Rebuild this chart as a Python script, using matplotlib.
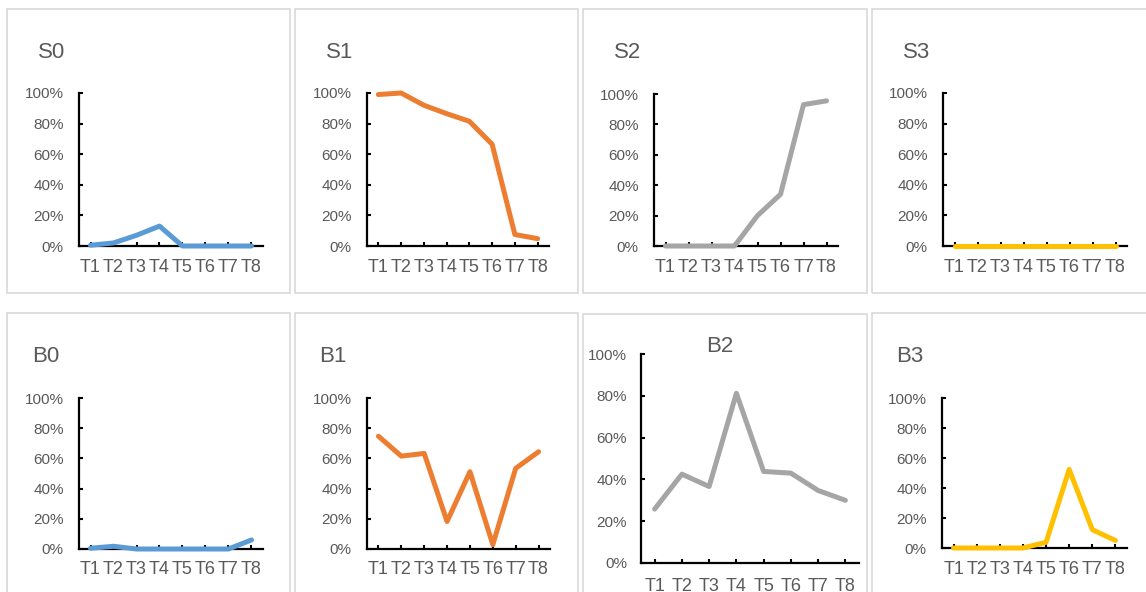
import matplotlib
matplotlib.use('Agg')
import matplotlib.pyplot as plt
from matplotlib.patches import Rectangle
from matplotlib.ticker import PercentFormatter

plt.rcParams['font.family'] = ['Liberation Sans', 'DejaVu Sans']
NARROW = ['Liberation Sans Narrow', 'Liberation Sans', 'DejaVu Sans']

# Data (fractions)
periods = ['T1', 'T2', 'T3', 'T4', 'T5', 'T6', 'T7', 'T8']
s0 = [0.005, 0.02, 0.07, 0.13, 0.0, 0.0, 0.0, 0.0]
s1 = [0.99, 1.0, 0.92, 0.865, 0.815, 0.665, 0.075, 0.048]
s2 = [0.0, 0.0, 0.0, 0.0, 0.20, 0.34, 0.93, 0.955]
s3 = [0.0, 0.0, 0.0, 0.0, 0.0, 0.0, 0.0, 0.0]
b0 = [0.005, 0.018, 0.0, 0.0, 0.0, 0.0, 0.0, 0.06]
b1 = [0.747, 0.615, 0.633, 0.182, 0.512, 0.029, 0.534, 0.644]
b2 = [0.258, 0.425, 0.366, 0.812, 0.438, 0.43, 0.347, 0.30]
b3 = [0.0, 0.0, 0.0, 0.0, 0.038, 0.524, 0.122, 0.05]

names = ['S0', 'S1', 'S2', 'S3', 'B0', 'B1', 'B2', 'B3']
series = [s0, s1, s2, s3, b0, b1, b2, b3]
colors = ['#5B9BD5', '#ED7D31', '#A5A5A5', '#FFC000'] * 2

W, H = 1146, 592
TEXT = '#595959'

# layout in pixels: (left, top, right, bottom)
axes_px = [(79, 93, 263, 246), (367, 93, 549, 246), (654, 94, 838, 246), (943, 93, 1127, 246),
           (79, 398, 263, 549), (367, 398, 550, 549), (641, 354, 859, 563), (942, 398, 1127, 548)]
box_px = [(7, 9, 290, 293), (295, 9, 578, 293), (583, 9, 867, 293), (872, 9, 1152, 293),
          (7, 313, 290, 600), (295, 313, 578, 600), (583, 314, 867, 600), (872, 313, 1152, 600)]
title_px = [(52, 52), (340, 52), (628, 52), (917, 52),
            (46, 356), (333, 356), (720, 347), (910, 356)]

fig = plt.figure(figsize=(W / 100, H / 100), dpi=100)

for (l, t, r, b) in box_px:
    fig.patches.append(Rectangle((l / W, 1 - b / H), (r - l) / W, (b - t) / H,
                                 transform=fig.transFigure, fill=False,
                                 edgecolor='#D9D9D9', lw=1.2))

x = list(range(len(periods)))
for name, vals, col, (l, t, r, b), (tx, ty) in zip(names, series, colors, axes_px, title_px):
    ax = fig.add_axes([l / W, 1 - b / H, (r - l) / W, (b - t) / H])
    ax.plot(x, vals, color=col, lw=3.6, solid_capstyle='round', solid_joinstyle='round',
            clip_on=False, zorder=3)
    ax.set_xlim(-0.5, len(periods) - 0.5)
    ax.set_ylim(0, 1)
    ax.set_yticks([0, 0.2, 0.4, 0.6, 0.8, 1.0])
    ax.yaxis.set_major_formatter(PercentFormatter(1.0, decimals=0))
    ax.set_xticks(x)
    ax.set_xticklabels(periods, family=NARROW, fontsize=13)
    for s in ['top', 'right']:
        ax.spines[s].set_visible(False)
    for s in ['left', 'bottom']:
        ax.spines[s].set_linewidth(1.6)
        ax.spines[s].set_color('black')
    ax.tick_params(direction='in', length=3, width=1.5, colors='black', labelcolor=TEXT)
    ax.tick_params(axis='y', labelsize=11, pad=11 if name != 'B2' else 10)
    ax.tick_params(axis='x', pad=9 if name != 'B2' else 11)
    ax.patch.set_alpha(0)
    fig.text(tx / W, 1 - ty / H, name, ha='center', va='center', fontsize=16,
             color=TEXT, family=NARROW)

fig.savefig('out.png', dpi=100)
